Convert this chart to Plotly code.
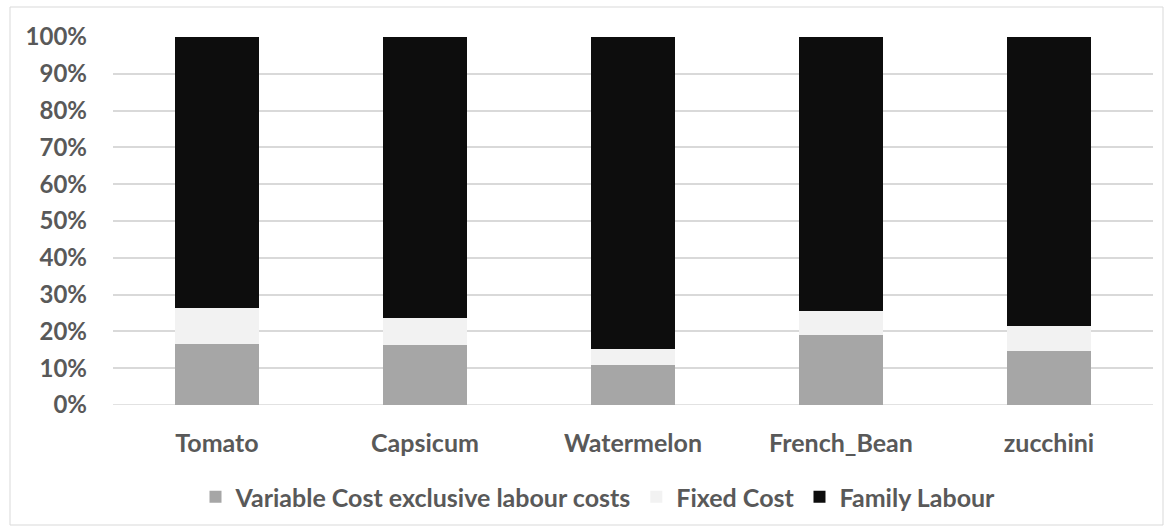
import plotly.graph_objects as go

# Share of total cost by crop (percent)
crops = ["Tomato", "Capsicum", "Watermelon", "French_Bean", "zucchini"]
variable_cost = [16.6, 16.3, 10.8, 18.9, 14.7]
fixed_cost = [9.8, 7.4, 4.3, 6.7, 6.9]
family_labour = [73.6, 76.3, 84.9, 74.4, 78.4]

y_ticks = list(range(0, 101, 10))
y_labels = [f"{v}%" for v in y_ticks]

series = [
    ("Variable Cost exclusive labour costs", variable_cost, "#a6a6a6"),
    ("Fixed Cost", fixed_cost, "#f2f2f2"),
    ("Family Labour", family_labour, "#0d0d0d"),
]

fig = go.Figure()
for name, vals, color in series:
    fig.add_trace(go.Bar(
        name=name, x=crops, y=vals,
        marker=dict(color=color, line=dict(width=0)),
    ))

W, H = 1173, 532
L, R, T, B = 113, 20, 37, 127
pw, ph = W - L - R, H - T - B

def px_x(x):
    return (x - L) / pw

def px_y(y):
    return (H - B - y) / ph

text_color = "#595959"
fig.update_layout(
    width=W, height=H,
    margin=dict(l=L, r=R, t=T, b=B),
    barmode="stack", bargap=0.595,
    plot_bgcolor="white", paper_bgcolor="white",
    font=dict(family="Lato", size=24, color=text_color, weight="bold"),
    showlegend=True,
    legend=dict(
        orientation="h", x=px_x(598), y=px_y(497),
        xanchor="center", yanchor="middle",
        font=dict(size=25, color=text_color, weight="bold"),
        traceorder="normal", itemwidth=30,
    ),
    xaxis=dict(
        showgrid=False, showline=False, zeroline=False,
        ticks="", ticklabelstandoff=21,
        tickfont=dict(size=25),
    ),
    yaxis=dict(
        range=[0, 100], tickvals=y_ticks, ticktext=y_labels,
        showgrid=True, gridcolor="#d9d9d9", gridwidth=1.5,
        zeroline=False, showline=False, ticks="",
        ticklabelstandoff=25,
    ),
    shapes=[dict(
        type="rect", xref="paper", yref="paper",
        x0=px_x(10), x1=px_x(1163), y0=px_y(525), y1=px_y(7),
        line=dict(color="#d9d9d9", width=1), fillcolor="rgba(0,0,0,0)",
        layer="below",
    ), dict(
        type="line", xref="paper", yref="y",
        x0=0, x1=1, y0=0, y1=0,
        line=dict(color="#d9d9d9", width=1.5), layer="below",
    )],
)

fig.write_html("out.html")
